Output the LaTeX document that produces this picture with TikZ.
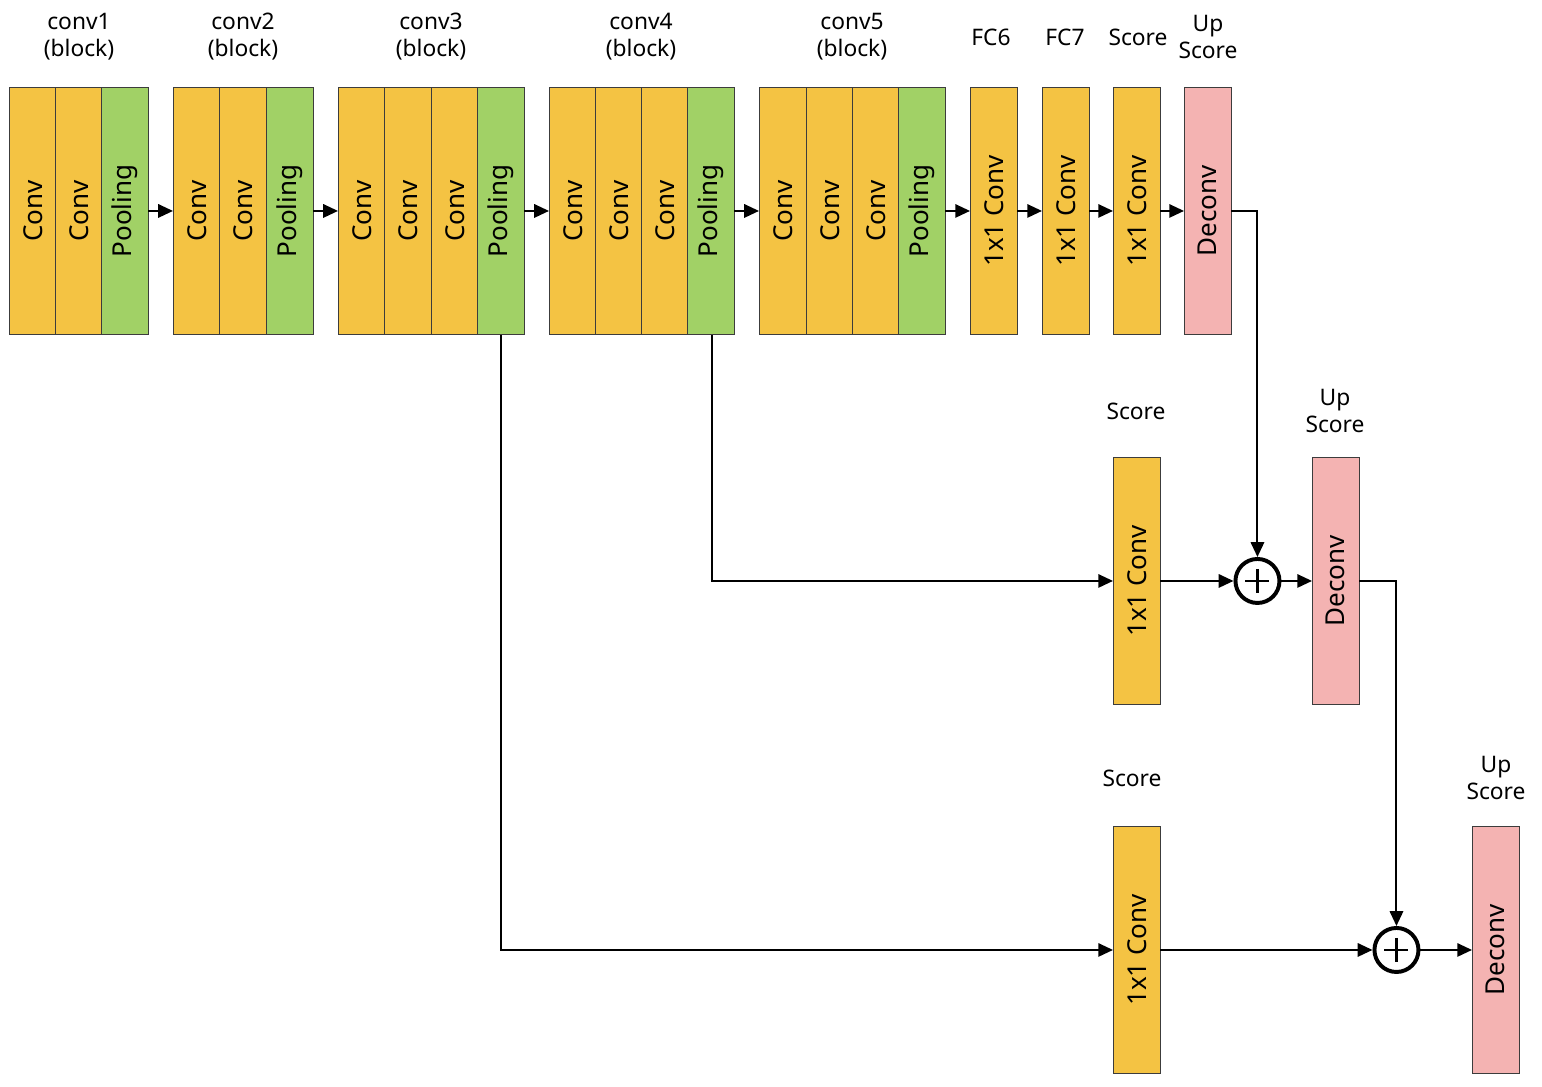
\documentclass[tikz,border=0pt]{standalone}
\usepackage{fontspec}
\setmainfont{Noto Sans}
\usetikzlibrary{positioning,arrows.meta,calc}
\definecolor{ink}{HTML}{3C3C3C}
\definecolor{convc}{HTML}{F4C343}
\definecolor{poolc}{HTML}{A1D166}
\definecolor{deconvc}{HTML}{F4B3B2}
\tikzset{
  flow/.style={-{Triangle[length=10.5pt,width=9.5pt]}, line width=1.4pt, color=black},
  lyr/.style={draw=ink, fill=#1, line width=0.6pt, minimum width=1.165cm,
    minimum height=6.175cm, inner sep=0pt, anchor=north west,
    font=\fontsize{18.5}{20}\selectfont},
  lyr/.default=convc,
  ttl/.style={font=\fontsize{16.2}{19.2}\selectfont, align=center, inner sep=1pt},
  sum/.style={circle, draw=black, line width=2.8pt, fill=white, minimum size=1.1cm, inner sep=0pt},
}
\begin{document}
\begin{tikzpicture}[x=0.025cm,y=-0.025cm]
  \useasboundingbox (0,0) rectangle (1542,1086);
  % encoder row
  \foreach \n/\x/\c/\t in {c1a/9/convc/Conv, c1b/55/convc/Conv, c1p/101/poolc/Pooling,
      c2a/173/convc/Conv, c2b/219/convc/Conv, c2p/266/poolc/Pooling,
      c3a/338/convc/Conv, c3b/384/convc/Conv, c3c/431/convc/Conv, c3p/477/poolc/Pooling,
      c4a/549/convc/Conv, c4b/595/convc/Conv, c4c/641/convc/Conv, c4p/687/poolc/Pooling,
      c5a/759/convc/Conv, c5b/806/convc/Conv, c5c/852/convc/Conv, c5p/898/poolc/Pooling,
      fc6/970/convc/{1x1 Conv}, fc7/1042/convc/{1x1 Conv}, sc1/1113/convc/{1x1 Conv},
      up1/1184/deconvc/Deconv} {
    \node[lyr=\c] (\n) at (\x,87) {\rotatebox{90}{\t}};
  }
  \foreach \n/\x/\t in {tc1/79/{conv1\\(block)}, tc2/243/{conv2\\(block)}, tc3/431/{conv3\\(block)},
      tc4/641/{conv4\\(block)}, tc5/852/{conv5\\(block)}, tfc6/991/FC6, tfc7/1065/FC7,
      tsc1/1138/Score, tup1/1208/{Up\\Score}} {
    \node[ttl] (\n) at (\x,37) {\t};
  }
  % skip branches
  \node[lyr] (sc2) at (1113,457) {\rotatebox{90}{1x1 Conv}};
  \node[lyr=deconvc] (up2) at (1312,457) {\rotatebox{90}{Deconv}};
  \node[lyr] (sc3) at (1113,826) {\rotatebox{90}{1x1 Conv}};
  \node[lyr=deconvc] (up3) at (1472,826) {\rotatebox{90}{Deconv}};
  \node[ttl] (tsc2) at (1136,411) {Score};
  \node[ttl] (tup2) at (1335,411) {Up\\Score};
  \node[ttl] (tsc3) at (1132,778) {Score};
  \node[ttl] (tup3) at (1496,778) {Up\\Score};
  \node[sum] (sum1) at ($(sc2.east -| up1.east)+(26,0)$) {};
  \node[sum] (sum2) at ($(sc3.east -| up2.east)+(37,0)$) {};
  \foreach \s in {sum1,sum2} {
    \draw[line width=1.8pt] ($(\s.center)+(-12,0)$) -- ($(\s.center)+(12,0)$);
    \draw[line width=1.8pt] ($(\s.center)+(0,-12)$) -- ($(\s.center)+(0,12)$);
  }
  % connectors
  \foreach \a/\b in {c1p/c2a, c2p/c3a, c3p/c4a, c4p/c5a, c5p/fc6, fc6/fc7, fc7/sc1, sc1/up1,
      sc2/sum1, sum1/up2, sc3/sum2, sum2/up3} {
    \draw[flow] (\a.east) -- (\a.east -| \b.west);
  }
  \draw[flow] (up1.east) -| (sum1.north);
  \draw[flow] (up2.east) -| (sum2.north);
  \draw[flow] ($(c4p.south)+(1,0)$) |- (sc2.west);
  \draw[flow] (c3p.south) |- (sc3.west);
\end{tikzpicture}
\end{document}
